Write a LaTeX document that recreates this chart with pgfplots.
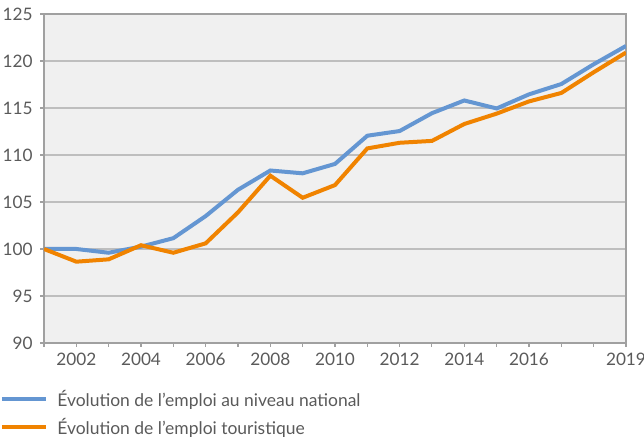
\documentclass[border=0pt]{standalone}
\usepackage{pgfplots}
\pgfplotsset{compat=1.18}
\usepackage{fontspec}
\setmainfont{Lato}
\definecolor{natblue}{RGB}{100,150,210}
\definecolor{touor}{RGB}{240,131,0}
\definecolor{bg}{RGB}{240,240,240}
\definecolor{gridc}{RGB}{190,190,190}
\definecolor{axc}{RGB}{160,160,160}
\definecolor{txt}{RGB}{90,90,90}
\begin{document}
\begin{tikzpicture}
\useasboundingbox (0,0) rectangle (483pt,328.5pt);
\begin{axis}[
 at={(33pt,71.25pt)}, anchor=south west,
 scale only axis, width=436.5pt, height=246.75pt,
 xmin=2001, xmax=2019, ymin=90, ymax=125,
 xtick={2002,2004,...,2016,2019}, minor xtick={2001,...,2019},
 ytick={90,95,...,125},
 ymajorgrids, major grid style={gridc, line width=0.8pt},
 axis background/.style={fill=bg},
 axis line style={axc, line width=1.2pt},
 tick align=outside, tick style={axc, line width=0.8pt},
 major tick length=3pt, minor tick length=3pt,
 xtick pos=lower, ytick pos=left,
 ticklabel style={font=\fontsize{12.9}{16}\selectfont, text=txt},
 yticklabel style={xshift=-2pt},
 xticklabel style={yshift=-1pt},
 /pgf/number format/assume math mode=true,
 /pgf/number format/1000 sep={},
 legend style={at={(axis description cs:-0.0756,-0.143)}, anchor=north west,
   draw=none, fill=none, inner sep=0pt, outer sep=0pt,
   font=\fontsize{13.1}{16}\selectfont, text=txt, row sep=7.5pt,
   nodes={inner sep=0pt},
   /tikz/every odd column/.append style={column sep=7pt}},
 legend cell align=left,
 legend image code/.code={\draw[#1, line width=3pt] (0pt,0pt) -- (33pt,0pt);},
]
\addplot[natblue, line width=3pt] coordinates {
(2001,100) (2002,100) (2003,99.6) (2004,100.25) (2005,101.15) (2006,103.5) (2007,106.3) (2008,108.35) (2009,108.05) (2010,109.05) (2011,112.05) (2012,112.55) (2013,114.45) (2014,115.8) (2015,114.95) (2016,116.45) (2017,117.55) (2018,119.65) (2019,121.6)};
\addlegendentry{Évolution de l’emploi au niveau national}
\addplot[touor, line width=3pt] coordinates {
(2001,100) (2002,98.65) (2003,98.9) (2004,100.4) (2005,99.6) (2006,100.6) (2007,103.9) (2008,107.8) (2009,105.45) (2010,106.8) (2011,110.7) (2012,111.3) (2013,111.5) (2014,113.3) (2015,114.4) (2016,115.7) (2017,116.6) (2018,118.8) (2019,120.9)};
\addlegendentry{Évolution de l’emploi touristique}
\end{axis}
\end{tikzpicture}
\end{document}
